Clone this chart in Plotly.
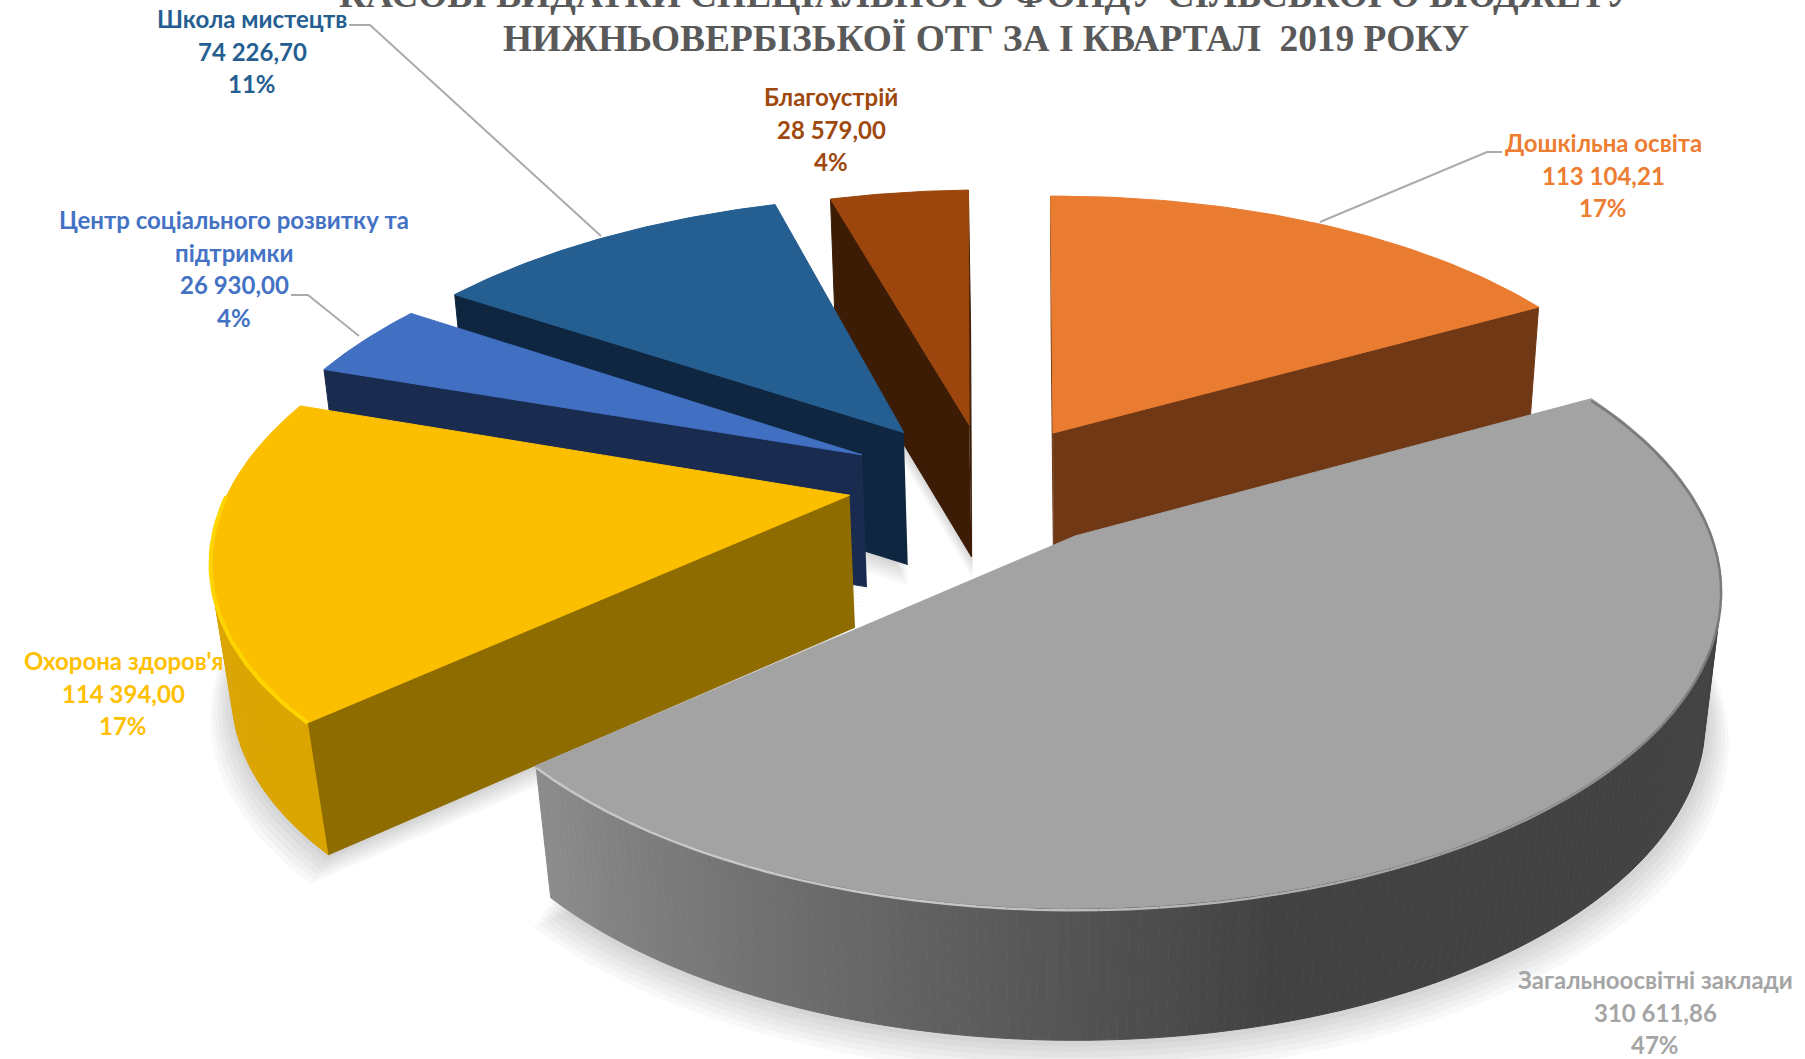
import numpy as np
import plotly.graph_objects as go

# ---------- data ----------
categories = ["Дошкільна освіта", "Загальноосвітні заклади", "Охорона здоров'я",
              "Центр соціального розвитку та підтримки", "Школа мистецтв", "Благоустрій"]
values = [113104.21, 310611.86, 114394.00, 26930.00, 74226.70, 28579.00]
value_labels = ["113 104,21", "310 611,86", "114 394,00", "26 930,00", "74 226,70", "28 579,00"]
percent_labels = ["17%", "47%", "17%", "4%", "11%", "4%"]
title_lines = ["КАСОВІ ВИДАТКИ СПЕЦІАЛЬНОГО ФОНДУ СІЛЬСЬКОГО БЮДЖЕТУ",
               "НИЖНЬОВЕРБІЗЬКОЇ ОТГ ЗА І КВАРТАЛ  2019 РОКУ"]

# ---------- style ----------
top_colors = ["#EA7C31", "#A3A3A3", "#FBBF00", "#416FC1", "#255E91", "#9C460D"]
wall_colors = ["#703815", "#8A8A8A", "#8F6C00", "#1A2B50", "#0F2640", "#3D1C05"]
rim_colors = ["#8A4A1C", "#424242", "#DBA500", "#2A4377", "#163A5A", "#5E2C08"]
label_colors = ["#ED7D31", "#A5A5A5", "#FFC000", "#4472C4", "#255E91", "#9E480E"]
# explosion offset and small turn of each slice on the pie plane
explode_x = [-0.0366, 0.0, -0.362, -0.35, -0.285, -0.177]
explode_y = [0.353, 0.0, 0.135, 0.275, 0.355, 0.383]
turn_deg = [-0.6, 0.3, -1.5, -1.5, -1.5, -1.7]
draw_order = [5, 4, 3, 2, 0, 1]
label_x = [1603, 1655, 123, 234, 252, 831]
label_y = [142.5, 979.5, 660.5, 219.5, 18.5, 96.5]

# view
CX, CY, A, B, T, PX, QZ = 1075, 536, 637, 309, 132, 0.17, 0.025


def proj(x, y, z):
    w = 1 + PX * y
    return CX + A * x / (w + QZ * z), CY - B * y / w + T * z


def area(xs, ys):
    xs, ys = np.asarray(xs), np.asarray(ys)
    return 0.5 * np.sum(xs * np.roll(ys, -1) - np.roll(xs, -1) * ys)


def poly(fig, xs, ys, fill, line=None, width=1):
    fig.add_trace(go.Scatter(x=list(xs), y=list(ys), mode="lines", fill="toself", fillcolor=fill,
                             line=dict(color=line or fill, width=width), hoverinfo="skip", showlegend=False))


def path(fig, xs, ys, color, width):
    fig.add_trace(go.Scatter(x=list(xs), y=list(ys), mode="lines", line=dict(color=color, width=width),
                             hoverinfo="skip", showlegend=False))


def mix(c1, c2, t):
    t = float(np.clip(t, 0, 1))
    a = [int(c1[i:i + 2], 16) for i in (1, 3, 5)]
    b = [int(c2[i:i + 2], 16) for i in (1, 3, 5)]
    return "#%02X%02X%02X" % tuple(round(u + (v - u) * t) for u, v in zip(a, b))


fig = go.Figure()
total = sum(values)
edges = np.concatenate([[0], np.cumsum(values)]) / total * 360.0


def slice_ring(i, n=60):
    th = np.radians(np.linspace(edges[i], edges[i + 1], n) + turn_deg[i])
    x = explode_x[i] + np.sin(th)
    y = explode_y[i] + np.cos(th)
    return x, y, th


# shadows
for i in draw_order:
    x, y, _ = slice_ring(i)
    wx = np.concatenate([[explode_x[i]], x])
    wy = np.concatenate([[explode_y[i]], y])
    sx, sy = proj(wx, wy, 1.0)
    for k in range(1, 7):
        s = 1 + 0.006 * k
        poly(fig, sx[0] + (sx - sx[0]) * s + 1, sy[0] + (sy - sy[0]) * s + 3.5 * k, "rgba(0,0,0,0.028)", line="rgba(0,0,0,0)")

# slices, back to front
for i in draw_order:
    ox, oy = explode_x[i], explode_y[i]
    x, y, th = slice_ring(i, 220 if i == 1 else 60)
    # radial walls
    for j, sgn in ((0, 1), (-1, -1)):
        qx = [ox, x[j], x[j], ox]
        qy = [oy, y[j], y[j], oy]
        qz = [0, 0, 1, 1]
        sx, sy = proj(np.array(qx), np.array(qy), np.array(qz))
        if area(sx, sy) * sgn < 0:
            poly(fig, sx, sy, wall_colors[i])
    # outer surface
    for k in range(len(x) - 1):
        qx = np.array([x[k], x[k + 1], x[k + 1], x[k]])
        qy = np.array([y[k], y[k + 1], y[k + 1], y[k]])
        sx, sy = proj(qx, qy, np.array([0, 0, 1, 1]))
        if area(sx, sy) < 0:
            deg = np.degrees(0.5 * (th[k] + th[k + 1]))
            if i == 1:
                col = mix("#424242", "#8C8C8C", (deg - 165) / 63)
            else:
                col = rim_colors[i]
            poly(fig, sx, sy, col)
    # top
    sx, sy = proj(np.concatenate([[ox], x, [ox]]), np.concatenate([[oy], y, [oy]]), 0.0)
    poly(fig, sx, sy, top_colors[i])
    # bevel
    if i == 1:
        bx, by = proj(x, y, 0.015)
        for k in range(0, len(bx) - 1, 3):
            deg = np.degrees(th[k])
            col = mix("#7A7A7A", "#C8C8C8", (deg - 110) / 80)
            path(fig, bx[k:k + 4], by[k:k + 4], col, 2.5)
    if i == 2:
        keep = np.degrees(th) < 270
        bx, by = proj(x[keep], y[keep], 0.0)
        path(fig, bx, by, "#FFD500", 4)

# labels, one text per line
def put(x, y, text, color):
    fig.add_annotation(x=x, y=y, xref="x", yref="y", text=text, showarrow=False, xanchor="center", yanchor="middle",
                       font=dict(family="Lato", size=24, color=color, weight="bold"))


for i, cat in enumerate(categories):
    lines = [cat]
    if i == 3:
        lines = ["Центр соціального розвитку та", "підтримки"]
    lines += [value_labels[i], percent_labels[i]]
    for n, t in enumerate(lines):
        put(label_x[i], label_y[i] + 32.5 * n, t, label_colors[i])

# title
for t, shift in zip(title_lines, (6, -38)):
    fig.add_annotation(x=0.5, y=1, xref="paper", yref="paper", yanchor="middle", xanchor="center", showarrow=False, text=t,
                       yshift=shift, xshift=83,
                       font=dict(family="Liberation Serif", size=37.4, color="#595959", weight="bold"))

leaders = [[(349, 25), (370, 25), (601, 236)], [(291, 295), (308, 295), (359, 336)], [(1502, 152), (1487, 152), (1320, 222)]]
shapes = []
for L in leaders:
    d = "M " + " L ".join(f"{a} {b}" for a, b in L)
    shapes.append(dict(type="path", path=d, xref="x", yref="y", line=dict(color="#ABABAB", width=2)))

fig.update_layout(width=1805, height=1059, margin=dict(l=0, r=0, t=0, b=0), paper_bgcolor="white", plot_bgcolor="white",
                  showlegend=False, shapes=shapes,
                  xaxis=dict(range=[0, 1805], visible=False, fixedrange=True),
                  yaxis=dict(range=[1059, 0], visible=False, fixedrange=True))
fig.write_html("out.html", config=dict(displayModeBar=False), post_script="document.body.style.margin='0';")
